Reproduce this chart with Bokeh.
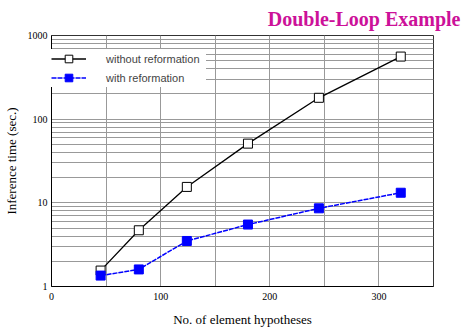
from bokeh.plotting import figure
from bokeh.models import Range1d, FixedTicker, Legend, LegendItem, Title
from bokeh.embed import file_html
from bokeh.resources import INLINE

hypotheses = [45, 80, 124, 180, 245, 320]
without_reformation = [1.55, 4.7, 15.5, 51, 180, 560]
with_reformation = [1.35, 1.6, 3.5, 5.5, 8.6, 13.2]
x_ticks = [0, 100, 200, 300]
x_grid = [0, 50, 100, 150, 200, 250, 300, 350]
y_ticks = [1, 10, 100, 1000]

p = figure(frame_width=382, frame_height=251, output_backend="svg", toolbar_location=None,
           y_axis_type="log", x_range=Range1d(0, 350), y_range=Range1d(1, 1000),
           min_border_left=44, min_border_right=34, min_border_top=30, min_border_bottom=40)
p.background_fill_color = "white"
p.border_fill_color = "white"
p.outline_line_color = "#333333"
p.outline_line_width = 1

title = Title(text="Double-Loop Example", align="right", offset=-27,
              text_font="Liberation Serif", text_font_size="20px",
              text_font_style="bold", text_color="#cc1199", standoff=11)
p.add_layout(title, "above")

p.xaxis.ticker = FixedTicker(ticks=x_ticks)
p.xgrid.ticker = FixedTicker(ticks=x_grid)
p.yaxis.ticker = FixedTicker(ticks=y_ticks, minor_ticks=[m * d for d in (1, 10, 100) for m in range(2, 10)])
p.xgrid.grid_line_color = "#999999"
p.ygrid.grid_line_color = "#999999"
p.ygrid.minor_grid_line_color = "#999999"
p.xgrid.grid_line_width = 1
p.ygrid.minor_grid_line_width = 1

for ax in (p.xaxis, p.yaxis):
    ax.axis_line_color = "black"
    ax.major_tick_line_color = None
    ax.minor_tick_line_color = None
    ax.major_tick_out = 0
    ax.major_tick_in = 0
    ax.minor_tick_out = 0
    ax.minor_tick_in = 0
    ax.major_label_text_font = "Liberation Serif"
    ax.major_label_text_font_size = "10px"
    ax.major_label_text_color = "black"
    ax.axis_label_text_font = "Liberation Serif"
    ax.axis_label_text_font_size = "13px"
    ax.axis_label_text_font_style = "normal"
    ax.axis_label_text_color = "black"
p.yaxis.major_label_overrides = {1: "1", 10: "10", 100: "100", 1000: "1000"}
p.xaxis.axis_label = "No. of element hypotheses"
p.yaxis.axis_label = "Inference time (sec.)"
p.xaxis.major_label_standoff = 6
p.yaxis.major_label_standoff = 4
p.xaxis.axis_label_standoff = 9
p.yaxis.axis_label_standoff = 6

l1 = p.line(hypotheses, without_reformation, line_color="black", line_width=1.3)
s1 = p.scatter(hypotheses, without_reformation, marker="square", size=9,
               fill_color="white", line_color="black", line_width=1)
l2 = p.line(hypotheses, with_reformation, line_color="#0000ff", line_width=1.5, line_dash="5 1")
s2 = p.scatter(hypotheses, with_reformation, marker="square", size=9,
               fill_color="#0000ff", line_color="#0000ff")

legend = Legend(items=[LegendItem(label="without reformation", renderers=[l1, s1]),
                       LegendItem(label="with reformation", renderers=[l2, s2])],
                location=(0, 199), margin=0, padding=6, spacing=0,
                glyph_width=35, glyph_height=19, label_standoff=20, label_width=100,
                label_text_font="Liberation Sans", label_text_font_size="11px",
                border_line_color=None, background_fill_color="white",
                background_fill_alpha=1)
p.add_layout(legend)

open("out.html", "w").write(file_html(p, INLINE))
